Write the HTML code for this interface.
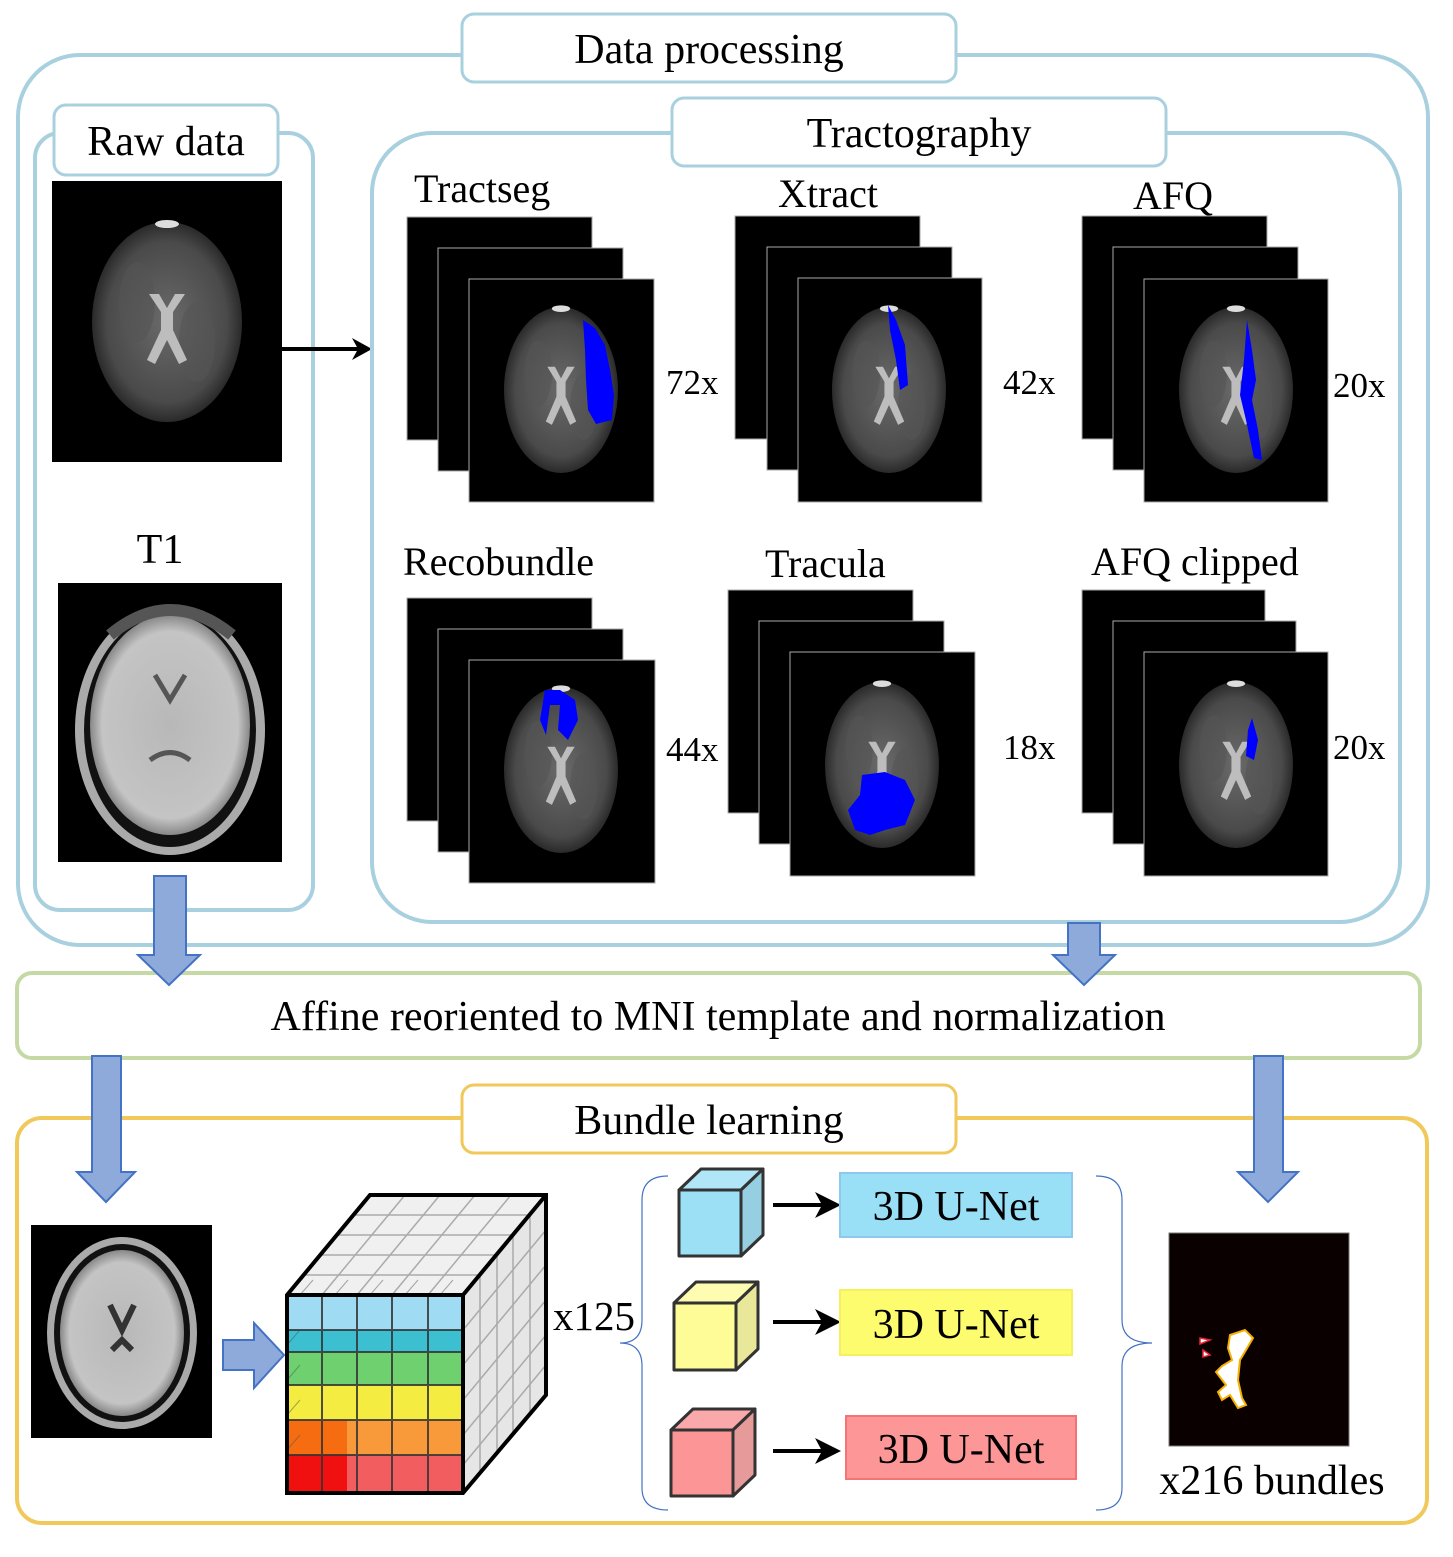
<!DOCTYPE html>
<html><head><meta charset="utf-8"><style>
html,body{margin:0;padding:0;background:#fff;}
svg{display:block;}
text{font-family:"Liberation Serif",serif;fill:#000;}
</style></head><body>
<svg width="1453" height="1557" viewBox="0 0 1453 1557" xmlns="http://www.w3.org/2000/svg">
<defs>
<radialGradient id="bg" cx="50%" cy="50%" r="50%">
<stop offset="0" stop-color="#6a6a6a"/><stop offset="0.8" stop-color="#4a4a4a"/><stop offset="1" stop-color="#2a2a2a"/>
</radialGradient>
<radialGradient id="t1g" cx="50%" cy="50%" r="50%">
<stop offset="0" stop-color="#b8b8b8"/><stop offset="0.85" stop-color="#c4c4c4"/><stop offset="1" stop-color="#888"/>
</radialGradient>
<g id="dwi">
<ellipse cx="0" cy="0" rx="75" ry="100" fill="url(#bg)"/>
<ellipse cx="-30" cy="-20" rx="18" ry="40" fill="#555" opacity="0.6"/>
<ellipse cx="30" cy="20" rx="18" ry="40" fill="#555" opacity="0.6"/>
<path d="M-18,-28 L-6,-10 L-6,8 L-20,38 L-12,42 L0,18 L12,42 L20,38 L6,8 L6,-10 L18,-28 L8,-28 L0,-14 L-8,-28 Z" fill="#bdbdbd"/>
<ellipse cx="0" cy="-98" rx="12" ry="4" fill="#ddd"/>
</g>
</defs>

<!-- Data processing outer -->
<rect x="18" y="55" width="1410" height="890" rx="62" fill="none" stroke="#a8d0de" stroke-width="4"/>
<rect x="462" y="14" width="494" height="68" rx="12" fill="#fff" stroke="#a8d0de" stroke-width="3"/>
<text x="709" y="63" font-size="42" text-anchor="middle">Data processing</text>

<!-- Raw data -->
<rect x="35" y="133" width="278" height="777" rx="25" fill="none" stroke="#a8d0de" stroke-width="4"/>
<rect x="54" y="105" width="224" height="70" rx="12" fill="#fff" stroke="#a8d0de" stroke-width="3"/>
<text x="166" y="155" font-size="42" text-anchor="middle">Raw data</text>
<rect x="52" y="181" width="230" height="281" fill="#000"/>
<use href="#dwi" transform="translate(167,322)"/>
<text x="160" y="563" font-size="42" text-anchor="middle">T1</text>
<rect x="58" y="583" width="224" height="279" fill="#000"/>
<ellipse cx="170" cy="730" rx="95" ry="125" fill="#aaa"/>
<ellipse cx="170" cy="730" rx="86" ry="117" fill="#111"/>
<ellipse cx="170" cy="725" rx="80" ry="110" fill="url(#t1g)"/>
<path d="M110,635 Q170,585 232,635" fill="none" stroke="#555" stroke-width="12"/>
<path d="M155,675 L170,700 L185,675 M150,760 Q170,745 190,760" fill="none" stroke="#555" stroke-width="5"/>
<path d="M282,349 H360" stroke="#000" stroke-width="4"/>
<path d="M352,338 L372,349 L352,360 L358,349 Z" fill="#000"/>

<!-- Tractography -->
<rect x="372" y="133" width="1028" height="789" rx="60" fill="none" stroke="#a8d0de" stroke-width="4"/>
<rect x="672" y="98" width="494" height="68" rx="12" fill="#fff" stroke="#a8d0de" stroke-width="3"/>
<text x="919" y="147" font-size="42" text-anchor="middle">Tractography</text>

<g font-size="40">
<text x="414" y="202">Tractseg</text>
<text x="778" y="207">Xtract</text>
<text x="1133" y="209">AFQ</text>
<text x="403" y="575">Recobundle</text>
<text x="765" y="577">Tracula</text>
<text x="1091" y="575">AFQ clipped</text>
<text x="666" y="394" font-size="35">72x</text>
<text x="1003" y="394" font-size="35">42x</text>
<text x="1333" y="397" font-size="35">20x</text>
<text x="666" y="761" font-size="35">44x</text>
<text x="1003" y="759" font-size="35">18x</text>
<text x="1333" y="759" font-size="35">20x</text>
</g>

<g stroke="#aaa" stroke-width="1">
<rect x="407" y="217" width="185" height="223" fill="#000"/>
<rect x="438" y="248" width="185" height="223" fill="#000"/>
<rect x="469" y="279" width="185" height="223" fill="#000"/>
<rect x="735" y="216" width="185" height="223" fill="#000"/>
<rect x="767" y="247" width="185" height="223" fill="#000"/>
<rect x="798" y="278" width="184" height="224" fill="#000"/>
<rect x="1082" y="216" width="185" height="223" fill="#000"/>
<rect x="1113" y="247" width="185" height="223" fill="#000"/>
<rect x="1144" y="279" width="184" height="223" fill="#000"/>
<rect x="407" y="598" width="185" height="223" fill="#000"/>
<rect x="438" y="629" width="185" height="223" fill="#000"/>
<rect x="469" y="660" width="186" height="223" fill="#000"/>
<rect x="728" y="590" width="185" height="223" fill="#000"/>
<rect x="759" y="621" width="185" height="223" fill="#000"/>
<rect x="790" y="652" width="185" height="224" fill="#000"/>
<rect x="1082" y="590" width="183" height="223" fill="#000"/>
<rect x="1113" y="621" width="183" height="223" fill="#000"/>
<rect x="1144" y="652" width="184" height="224" fill="#000"/>
</g>
<use href="#dwi" transform="translate(561,390) scale(0.76,0.83)"/>
<use href="#dwi" transform="translate(889,390) scale(0.76,0.83)"/>
<use href="#dwi" transform="translate(1236,390) scale(0.76,0.83)"/>
<use href="#dwi" transform="translate(561,770) scale(0.76,0.83)"/>
<use href="#dwi" transform="translate(882,765) scale(0.76,0.83)"/>
<use href="#dwi" transform="translate(1236,765) scale(0.76,0.83)"/>
<g fill="#0000ff">
<path d="M583,320 L595,328 L605,345 L610,370 L614,395 L612,420 L596,424 L588,410 L586,380 L585,350 Z"/>
<path d="M888,305 L896,320 L905,345 L908,385 L900,390 L896,360 L890,330 Z"/>
<path d="M1247,320 L1252,350 L1256,380 L1252,400 L1258,430 L1262,460 L1254,458 L1246,420 L1240,395 L1244,360 Z"/>
<path d="M545,690 L560,690 L575,700 L578,720 L568,740 L558,730 L560,705 L550,705 L546,735 L540,720 Z"/>
<path d="M862,775 L885,772 L905,780 L915,800 L905,825 L885,830 L870,835 L855,830 L848,810 L860,795 Z"/>
<path d="M1252,718 L1258,740 L1254,760 L1246,756 L1248,730 Z"/>
</g>

<!-- Affine -->
<rect x="17" y="973" width="1403" height="85" rx="15" fill="#fff" stroke="#c5d9a5" stroke-width="4"/>
<text x="718" y="1030" font-size="42" text-anchor="middle">Affine reoriented to MNI template and normalization</text>

<!-- Bundle learning -->
<rect x="17" y="1118" width="1410" height="405" rx="25" fill="none" stroke="#f0c95a" stroke-width="4"/>
<rect x="462" y="1085" width="494" height="68" rx="12" fill="#fff" stroke="#f0c95a" stroke-width="3"/>
<text x="709" y="1134" font-size="42" text-anchor="middle">Bundle learning</text>

<!-- block arrows -->
<g fill="#8eaadb" stroke="#4472c4" stroke-width="2">
<path d="M154,876 H186 V955 H200 L169,985 L138,955 H154 Z"/>
<path d="M1068,923 H1100 V955 H1115 L1084,985 L1053,955 H1068 Z"/>
<path d="M92,1056 H121 V1172 H135 L106,1202 L77,1172 H92 Z"/>
<path d="M1254,1056 H1283 V1172 H1298 L1268,1202 L1238,1172 H1254 Z"/>
<path d="M223,1340 H254 V1323 L284,1355 L254,1388 V1370 H223 Z"/>
</g>

<!-- small T1 -->
<rect x="31" y="1225" width="181" height="213" fill="#000"/>
<ellipse cx="122" cy="1333" rx="75" ry="96" fill="#aaa"/>
<ellipse cx="122" cy="1333" rx="68" ry="89" fill="#111"/>
<ellipse cx="122" cy="1333" rx="62" ry="83" fill="url(#t1g)"/>
<path d="M110,1305 L122,1330 L134,1305 M112,1350 L122,1340 L132,1350" fill="none" stroke="#333" stroke-width="6"/>

<!-- big cube -->
<g>
<polygon points="287,1295 370,1195 546,1195 463,1295" fill="#f0f0f0"/>
<polygon points="463,1295 546,1195 546,1395 463,1493" fill="#e6e6e6"/>
<g stroke="#aaa" stroke-width="1.5" fill="none">
<path d="M304,1275 H480 M321,1255 H497 M337,1235 H513 M354,1215 H530"/>
<path d="M322,1295 L405,1195 M357,1295 L440,1195 M392,1295 L475,1195 M428,1295 L511,1195"/>
<path d="M480,1275 V1473 M497,1255 V1453 M513,1235 V1433 M530,1215 V1413"/>
<path d="M463,1330 L546,1230 M463,1365 L546,1265 M463,1400 L546,1300 M463,1435 L546,1335 M463,1465 L546,1365"/>
</g>
<rect x="287" y="1295" width="176" height="35" fill="#9fdcf3"/>
<rect x="287" y="1330" width="176" height="22" fill="#3cbfd0"/>
<rect x="287" y="1352" width="176" height="33" fill="#6fd06f"/>
<rect x="287" y="1385" width="176" height="35" fill="#f4ec40"/>
<rect x="287" y="1420" width="176" height="35" fill="#f99a3a"/>
<rect x="287" y="1455" width="176" height="38" fill="#f25d60"/>
<rect x="287" y="1455" width="60" height="38" fill="#f01010"/>
<rect x="287" y="1420" width="60" height="35" fill="#f56d10"/>
<g stroke="#333" stroke-width="2" fill="none" opacity="0.85">
<path d="M322,1295 V1493 M357,1295 V1493 M392,1295 V1493 M428,1295 V1493"/>
<path d="M287,1330 H463 M287,1352 H463 M287,1385 H463 M287,1420 H463 M287,1455 H463"/>
</g>
<g stroke="#555" stroke-width="1" fill="none" opacity="0.5">
<path d="M300,1295 L313,1280 M335,1295 L348,1280 M370,1295 L383,1280 M405,1295 L418,1280 M440,1295 L453,1280"/>
<path d="M287,1345 L300,1330 M287,1380 L300,1365 M287,1415 L300,1400 M287,1450 L300,1435"/>
</g>
<polygon points="287,1295 370,1195 546,1195 546,1395 463,1493 287,1493" fill="none" stroke="#000" stroke-width="4"/>
<path d="M287,1295 H463 V1493 M463,1295 L546,1195" fill="none" stroke="#000" stroke-width="4"/>
</g>
<text x="553" y="1330" font-size="41">x125</text>

<!-- braces -->
<path d="M668,1176 Q642,1176 642,1200 V1320 Q642,1343 620,1343 Q642,1343 642,1366 V1488 Q642,1510 668,1510" fill="none" stroke="#4472c4" stroke-width="1.2"/>
<path d="M1096,1176 Q1122,1176 1122,1200 V1320 Q1122,1343 1152,1343 Q1122,1343 1122,1366 V1488 Q1122,1510 1096,1510" fill="none" stroke="#4472c4" stroke-width="1.2"/>

<!-- small cubes -->
<g stroke="#333" stroke-width="3" stroke-linejoin="round">
<polygon points="679,1190 701,1169 763,1169 741,1190" fill="#b0e6f7"/>
<polygon points="741,1190 763,1169 763,1235 741,1256" fill="#96cfe1"/>
<rect x="679" y="1190" width="62" height="66" fill="#9be0f5"/>
<polygon points="674,1303 696,1282 758,1282 736,1303" fill="#fdfcb0"/>
<polygon points="736,1303 758,1282 758,1349 736,1370" fill="#e9e79a"/>
<rect x="674" y="1303" width="62" height="67" fill="#fdfc96"/>
<polygon points="671,1430 693,1409 755,1409 733,1430" fill="#faa8aa"/>
<polygon points="733,1430 755,1409 755,1475 733,1496" fill="#e69a9a"/>
<rect x="671" y="1430" width="62" height="66" fill="#fb9596"/>
</g>
<g stroke="#000" stroke-width="4">
<path d="M773,1205 H828 M773,1322 H828 M773,1451 H828"/>
</g>
<g fill="#000">
<path d="M815,1192 L841,1205 L815,1218 L822,1205 Z"/>
<path d="M815,1309 L841,1322 L815,1335 L822,1322 Z"/>
<path d="M815,1438 L841,1451 L815,1464 L822,1451 Z"/>
</g>
<rect x="840" y="1173" width="232" height="64" fill="#99e0f7" stroke="#8ec8ec" stroke-width="2"/>
<rect x="840" y="1290" width="232" height="65" fill="#fdfc6e" stroke="#f5f060" stroke-width="2"/>
<rect x="846" y="1416" width="230" height="63" fill="#fc9697" stroke="#f47476" stroke-width="2"/>
<g font-size="42" text-anchor="middle">
<text x="956" y="1220">3D U-Net</text>
<text x="956" y="1338">3D U-Net</text>
<text x="961" y="1463">3D U-Net</text>
</g>

<!-- bundle output -->
<rect x="1169" y="1233" width="180" height="213" fill="#0a0000" stroke="#777" stroke-width="1"/>
<path d="M1230,1335 L1245,1330 L1253,1338 L1246,1350 L1240,1360 L1238,1380 L1242,1398 L1246,1405 L1238,1408 L1230,1395 L1222,1400 L1218,1392 L1226,1385 L1216,1372 L1222,1366 L1232,1360 L1228,1348 Z" fill="#fff" stroke="#f5b000" stroke-width="2"/>
<path d="M1200,1338 L1210,1340 L1200,1344 Z M1203,1350 L1210,1355 L1203,1357 Z" fill="#fff" stroke="#e23" stroke-width="1.5"/>
<text x="1272" y="1494" font-size="42" text-anchor="middle">x216 bundles</text>
</svg>
</body></html>
